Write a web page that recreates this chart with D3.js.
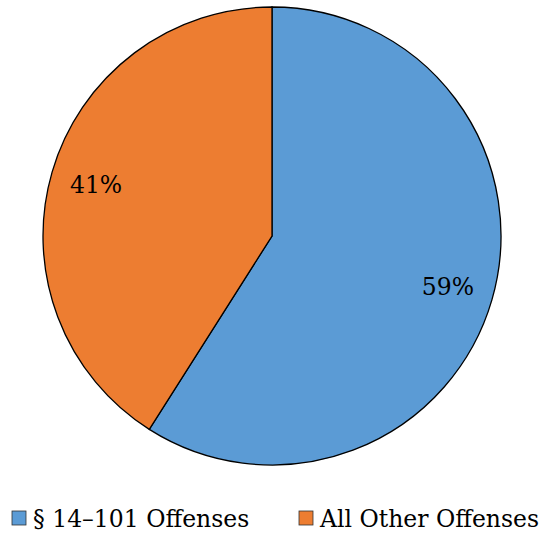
<!DOCTYPE html>
<html><head><meta charset="utf-8">
<script src="https://cdn.jsdelivr.net/npm/d3@7"></script>
<style>body{margin:0;background:#fff}svg{display:block}
text{font-family:"DejaVu Serif","Liberation Serif",serif}</style>
</head><body>
<svg id="c" width="543" height="535"></svg>
<script>
const categories = ["§ 14–101 Offenses", "All Other Offenses"];
const values = [59, 41];
const labels = ["59%", "41%"];
const colors = ["#5B9BD5", "#ED7D31"];

const svg = d3.select("#c");
const cx = 272, cy = 236, r = 229;
const pie = d3.pie().sort(null).value(d => d.v);
const arcs = pie(values.map((v, i) => ({v, i})));
const arc = d3.arc().innerRadius(0).outerRadius(r);
const g = svg.append("g").attr("transform", `translate(${cx},${cy})`);
g.selectAll("path").data(arcs).join("path")
  .attr("d", arc).attr("fill", d => colors[d.data.i])
  .attr("stroke", "#000").attr("stroke-width", 1.3);
const labelArc = d3.arc().innerRadius(r * 0.8).outerRadius(r * 0.8);
g.selectAll("text").data(arcs).join("text")
  .attr("transform", d => {
    const c = labelArc.centroid(d);
    return `translate(${c[0]},${c[1]})`;
  })
  .attr("text-anchor", "middle").attr("dy", "0.35em")
  .attr("font-size", 23.5).text(d => labels[d.data.i]);

const leg = svg.append("g").attr("font-size", 23.5);
const lx = [12, 299];
categories.forEach((c, i) => {
  leg.append("rect").attr("x", lx[i]).attr("y", 511).attr("width", 14).attr("height", 14)
    .attr("fill", colors[i]).attr("stroke", "#333").attr("stroke-width", 0.8);
  leg.append("text").attr("x", lx[i] + 21).attr("y", 527).text(c);
});
</script>
</body></html>
